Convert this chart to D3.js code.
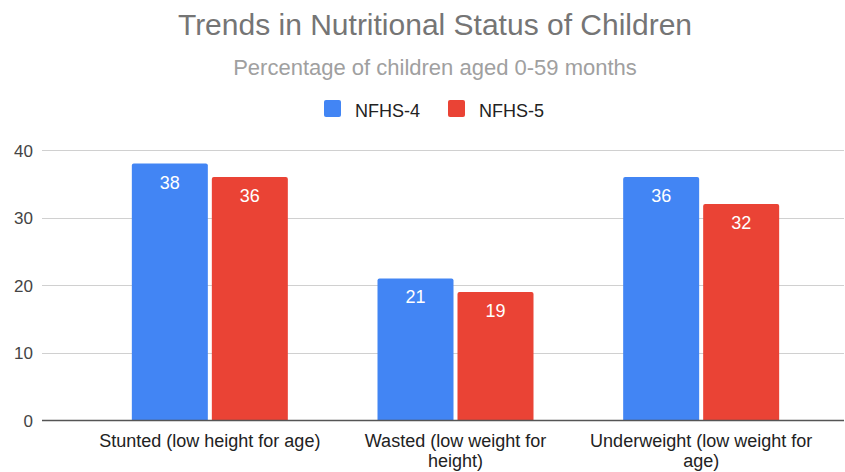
<!DOCTYPE html>
<html>
<head>
<meta charset="utf-8">
<script src="https://cdn.jsdelivr.net/npm/d3@7"></script>
<style>
  html, body { margin: 0; padding: 0; background: #fff; }
  svg { display: block; font-family: "Liberation Sans", Arial, sans-serif; }
</style>
</head>
<body>
<svg id="chart" width="845" height="472"></svg>
<script>
const categories = ["Stunted (low height for age)", "Wasted (low weight for height)", "Underweight (low weight for age)"];
const seriesNames = ["NFHS-4", "NFHS-5"];
const nfhs4 = [38, 21, 36];
const nfhs5 = [36, 19, 32];
const yTicks = [0, 10, 20, 30, 40];
const colors = ["#4285F4", "#EA4335"];

const svg = d3.select("#chart");
const gridLeft = 42, gridRight = 844;

const y = d3.scaleLinear().domain([0, 40]).range([420.5, 150]);
const x0 = d3.scaleBand().domain(categories).range([87, 824]).padding(0);
const groupW = 156;
const x1 = d3.scaleBand().domain(seriesNames).range([0, groupW]).paddingInner(0.05).paddingOuter(0);

// gridlines
svg.append("g").selectAll("line").data(yTicks.filter(d => d !== 0)).join("line")
  .attr("x1", gridLeft).attr("x2", gridRight)
  .attr("y1", d => Math.round(y(d)) + 0.5).attr("y2", d => Math.round(y(d)) + 0.5)
  .attr("stroke", "#d0d0d0").attr("stroke-width", 1.2);

// y labels
svg.append("g").selectAll("text").data(yTicks).join("text")
  .attr("x", 33).attr("y", d => y(d) + 6.5)
  .attr("text-anchor", "end").attr("font-size", 17).attr("fill", "#444")
  .text(d => d);

// bars
const rows = categories.map((c, i) => ({ cat: c, vals: [nfhs4[i], nfhs5[i]] }));
const groups = svg.append("g").selectAll("g").data(rows).join("g")
  .attr("transform", d => `translate(${x0(d.cat) + (x0.bandwidth() - groupW) / 2},0)`);

groups.selectAll("path").data(d => d.vals.map((v, j) => ({ v, s: seriesNames[j], j }))).join("path")
  .attr("d", d => {
    const bx = x1(d.s), bw = x1.bandwidth(), top = y(d.v), bot = y(0), r = 2;
    return `M${bx},${bot} L${bx},${top + r} Q${bx},${top} ${bx + r},${top} L${bx + bw - r},${top} Q${bx + bw},${top} ${bx + bw},${top + r} L${bx + bw},${bot} Z`;
  })
  .attr("fill", d => colors[d.j]);

groups.selectAll("text").data(d => d.vals.map((v, j) => ({ v, s: seriesNames[j], j }))).join("text")
  .attr("x", d => x1(d.s) + x1.bandwidth() / 2)
  .attr("y", d => y(d.v) + 25)
  .attr("text-anchor", "middle").attr("font-size", 18).attr("fill", "#fff")
  .text(d => d.v);

// zero axis line
svg.append("line").attr("x1", gridLeft).attr("x2", gridRight)
  .attr("y1", y(0)).attr("y2", y(0)).attr("stroke", "#555").attr("stroke-width", 1.6);

// x labels with wrap
const maxW = 234;
categories.forEach(c => {
  const t = svg.append("text").attr("text-anchor", "middle").attr("font-size", 18).attr("fill", "#222")
    .attr("x", x0(c) + x0.bandwidth() / 2).attr("y", 447);
  const words = c.split(" ");
  let lines = [], cur = [];
  const probe = svg.append("text").attr("font-size", 18).attr("visibility", "hidden");
  words.forEach(w => {
    const test = cur.concat([w]).join(" ");
    probe.text(test);
    if (probe.node().getComputedTextLength() > maxW && cur.length) { lines.push(cur.join(" ")); cur = [w]; }
    else cur.push(w);
  });
  lines.push(cur.join(" "));
  probe.remove();
  lines.forEach((l, i) => {
    t.append("tspan").attr("x", x0(c) + x0.bandwidth() / 2).attr("dy", i === 0 ? 0 : 20).text(l);
  });
});

// title & subtitle
svg.append("text").attr("x", 435).attr("y", 35).attr("text-anchor", "middle")
  .attr("font-size", 30).attr("fill", "#757575").text("Trends in Nutritional Status of Children");
svg.append("text").attr("x", 435).attr("y", 75).attr("text-anchor", "middle")
  .attr("font-size", 22).attr("fill", "#a0a0a0").text("Percentage of children aged 0-59 months");

// legend
const legendX = [324, 448];
const lg = svg.append("g").selectAll("g").data(seriesNames).join("g")
  .attr("transform", (d, i) => `translate(${legendX[i]},100)`);
lg.append("rect").attr("width", 17).attr("height", 17).attr("rx", 2).attr("fill", (d, i) => colors[i]);
lg.append("text").attr("x", 31).attr("y", 16.5).attr("font-size", 18).attr("fill", "#222").text(d => d);
</script>
</body>
</html>
